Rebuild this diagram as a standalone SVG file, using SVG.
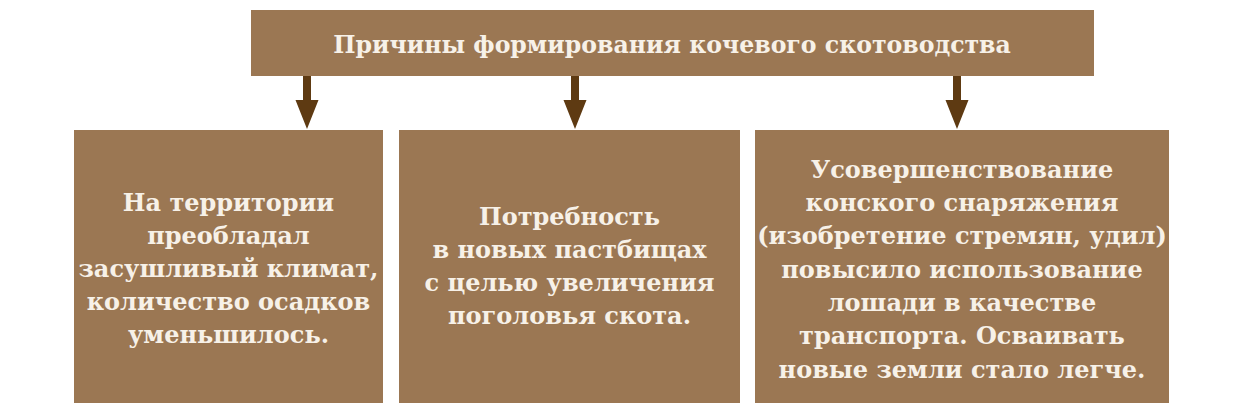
<svg xmlns="http://www.w3.org/2000/svg" width="1237" height="415" viewBox="0 0 1237 415">
<style>
.box{fill:#9b7753}
.t{font-family:"DejaVu Serif","Liberation Serif",serif;font-weight:bold;font-size:24px;fill:#f7f1e8;text-anchor:middle}
.title{font-size:23.6px}
.arr{fill:#5e3a12}
</style>
<rect width="1237" height="415" fill="#ffffff"/>
<g id="title">
<rect class="box" x="251" y="10" width="843" height="66"/>
<text class="t title" x="672" y="53">Причины формирования кочевого скотоводства</text>
</g>
<g id="connectors">
<path class="arr" d="M303 76 h8 v24 h7.5 l-11.5 29 l-11.5 -29 h7.5 z"/>
<path class="arr" d="M571 76 h8 v24 h7.5 l-11.5 29 l-11.5 -29 h7.5 z"/>
<path class="arr" d="M953 76 h8 v24 h7.5 l-11.5 29 l-11.5 -29 h7.5 z"/>
</g>
<g id="box1">
<rect class="box" x="74" y="130" width="309" height="273"/>
<text class="t" x="228.5" y="211">На территории</text>
<text class="t" x="228.5" y="244">преобладал</text>
<text class="t" x="228.5" y="277">засушливый климат,</text>
<text class="t" x="228.5" y="310">количество осадков</text>
<text class="t" x="228.5" y="343">уменьшилось.</text>
</g>
<g id="box2">
<rect class="box" x="399" y="130" width="341" height="273"/>
<text class="t" x="569.5" y="225">Потребность</text>
<text class="t" x="569.5" y="258">в новых пастбищах</text>
<text class="t" x="569.5" y="291">с целью увеличения</text>
<text class="t" x="569.5" y="324">поголовья скота.</text>
</g>
<g id="box3">
<rect class="box" x="755" y="130" width="414" height="273"/>
<text class="t" x="962" y="178">Усовершенствование</text>
<text class="t" x="962" y="211">конского снаряжения</text>
<text class="t" x="962" y="244">(изобретение стремян, удил)</text>
<text class="t" x="962" y="278">повысило использование</text>
<text class="t" x="962" y="311">лошади в качестве</text>
<text class="t" x="962" y="344">транспорта. Осваивать</text>
<text class="t" x="962" y="378">новые земли стало легче.</text>
</g>
</svg>
